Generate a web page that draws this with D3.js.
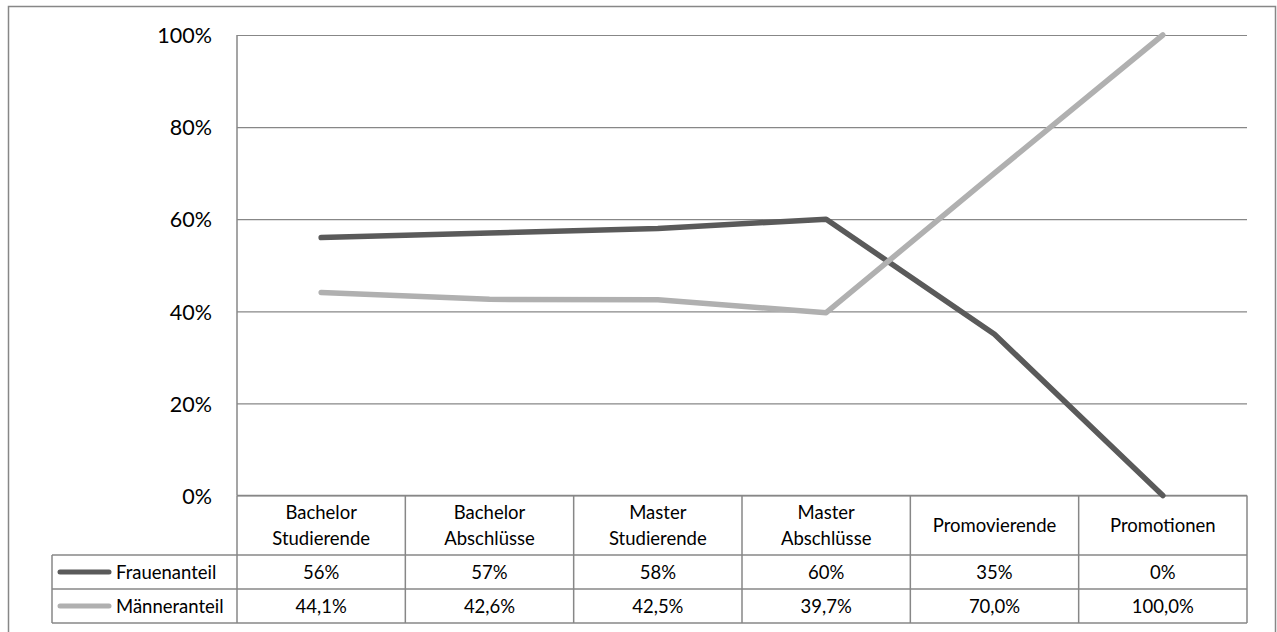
<!DOCTYPE html>
<html>
<head>
<meta charset="utf-8">
<script src="https://cdn.jsdelivr.net/npm/d3@7"></script>
<style>
  html, body { margin: 0; padding: 0; background: #fff; }
  svg { display: block; }
  text { font-family: "Lato", "Open Sans", sans-serif; fill: #000; }
</style>
</head>
<body>
<svg id="chart" width="1277" height="632"></svg>
<script>
// Anteile nach Qualifikationsstufe (in %)
const categories = [
  ["Bachelor", "Studierende"],
  ["Bachelor", "Abschlüsse"],
  ["Master", "Studierende"],
  ["Master", "Abschlüsse"],
  ["Promovierende"],
  ["Promotionen"]
];
const frauenanteil = [56, 57, 58, 60, 35, 0];
const maenneranteil = [44.1, 42.6, 42.5, 39.7, 70.0, 100.0];
const frauenLabels = ["56%", "57%", "58%", "60%", "35%", "0%"];
const maennerLabels = ["44,1%", "42,6%", "42,5%", "39,7%", "70,0%", "100,0%"];
const yTicks = [0, 20, 40, 60, 80, 100];

const series = [
  { name: "Frauenanteil", values: frauenanteil, labels: frauenLabels, color: "#5a5a5a" },
  { name: "Männeranteil", values: maenneranteil, labels: maennerLabels, color: "#b0b0b0" }
];

const svg = d3.select("#chart");
const plot = { left: 237, right: 1247, top: 35, bottom: 495.5 };
const table = { legendLeft: 52, headerBottom: 555, rowH: 34 };
const gridColor = "#878787";

// Chart frame
svg.append("rect")
  .attr("x", 8.5).attr("y", 6.5)
  .attr("width", 1267).attr("height", 660)
  .attr("fill", "none").attr("stroke", gridColor).attr("stroke-width", 1.5);

const keys = categories.map((c, i) => i);
const x = d3.scaleBand().domain(keys).range([plot.left, plot.right]).padding(0);
const y = d3.scaleLinear().domain([0, 100]).range([plot.bottom, plot.top]);

// Horizontal gridlines and y labels
const yAxis = d3.axisLeft(y)
  .tickValues(yTicks)
  .tickSize(-(plot.right - plot.left))
  .tickPadding(25)
  .tickFormat(d => d + "%");

const yG = svg.append("g")
  .attr("transform", `translate(${plot.left},0)`)
  .call(yAxis);
yG.select(".domain").remove();
yG.selectAll(".tick line").attr("stroke", gridColor).attr("stroke-width", 1.2);
yG.selectAll(".tick text")
  .attr("font-size", 21.5)
  .attr("font-family", "Lato, sans-serif")
  .attr("fill", "#000")
  .attr("dy", "0.36em");

// Vertical axis line on the left of the plot area
svg.append("line")
  .attr("x1", plot.left).attr("x2", plot.left)
  .attr("y1", y(100)).attr("y2", y(0))
  .attr("stroke", gridColor).attr("stroke-width", 1.5);

// Data table
const rowTop = [table.headerBottom, table.headerBottom + table.rowH];
const tableBottom = table.headerBottom + 2 * table.rowH;
const tg = svg.append("g").attr("stroke", gridColor).attr("stroke-width", 1.5);

// header top line (0% baseline) and row separators
tg.append("line").attr("x1", plot.left).attr("x2", plot.right)
  .attr("y1", plot.bottom).attr("y2", plot.bottom);
[table.headerBottom, table.headerBottom + table.rowH, tableBottom].forEach(yy => {
  tg.append("line").attr("x1", table.legendLeft).attr("x2", plot.right)
    .attr("y1", yy).attr("y2", yy);
});
// column lines
keys.concat([keys.length]).forEach(i => {
  const xx = i < keys.length ? x(i) : plot.right;
  tg.append("line").attr("x1", xx).attr("x2", xx)
    .attr("y1", plot.bottom).attr("y2", tableBottom);
});
tg.append("line").attr("x1", table.legendLeft).attr("x2", table.legendLeft)
  .attr("y1", table.headerBottom).attr("y2", tableBottom);

const fs = 18.5;
// category header labels
keys.forEach(i => {
  const lines = categories[i];
  const cx = x(i) + x.bandwidth() / 2;
  const cy = (plot.bottom + table.headerBottom) / 2;
  const lh = 25.5;
  const t = svg.append("text")
    .attr("text-anchor", "middle")
    .attr("font-size", fs);
  lines.forEach((s, j) => {
    t.append("tspan")
      .attr("x", cx)
      .attr("y", cy + (j - (lines.length - 1) / 2) * lh)
      .attr("dy", "0.36em")
      .text(s);
  });
});

// value rows with legend keys
series.forEach((s, r) => {
  const cy = rowTop[r] + table.rowH / 2;
  svg.append("line")
    .attr("x1", 60).attr("x2", 109)
    .attr("y1", cy).attr("y2", cy)
    .attr("stroke", s.color).attr("stroke-width", 5)
    .attr("stroke-linecap", "round");
  svg.append("text")
    .attr("x", 116).attr("y", cy).attr("dy", "0.36em")
    .attr("font-size", fs)
    .text(s.name);
  s.labels.forEach((lab, i) => {
    svg.append("text")
      .attr("x", x(i) + x.bandwidth() / 2)
      .attr("y", cy).attr("dy", "0.36em")
      .attr("text-anchor", "middle")
      .attr("font-size", fs)
      .text(lab);
  });
});

// Series lines
const line = d3.line()
  .x((d, i) => x(i) + x.bandwidth() / 2)
  .y(d => y(d));

series.forEach(s => {
  svg.append("path")
    .datum(s.values)
    .attr("d", line)
    .attr("fill", "none")
    .attr("stroke", s.color)
    .attr("stroke-width", 5.5)
    .attr("stroke-linejoin", "round")
    .attr("stroke-linecap", "round");
});
</script>
</body>
</html>
